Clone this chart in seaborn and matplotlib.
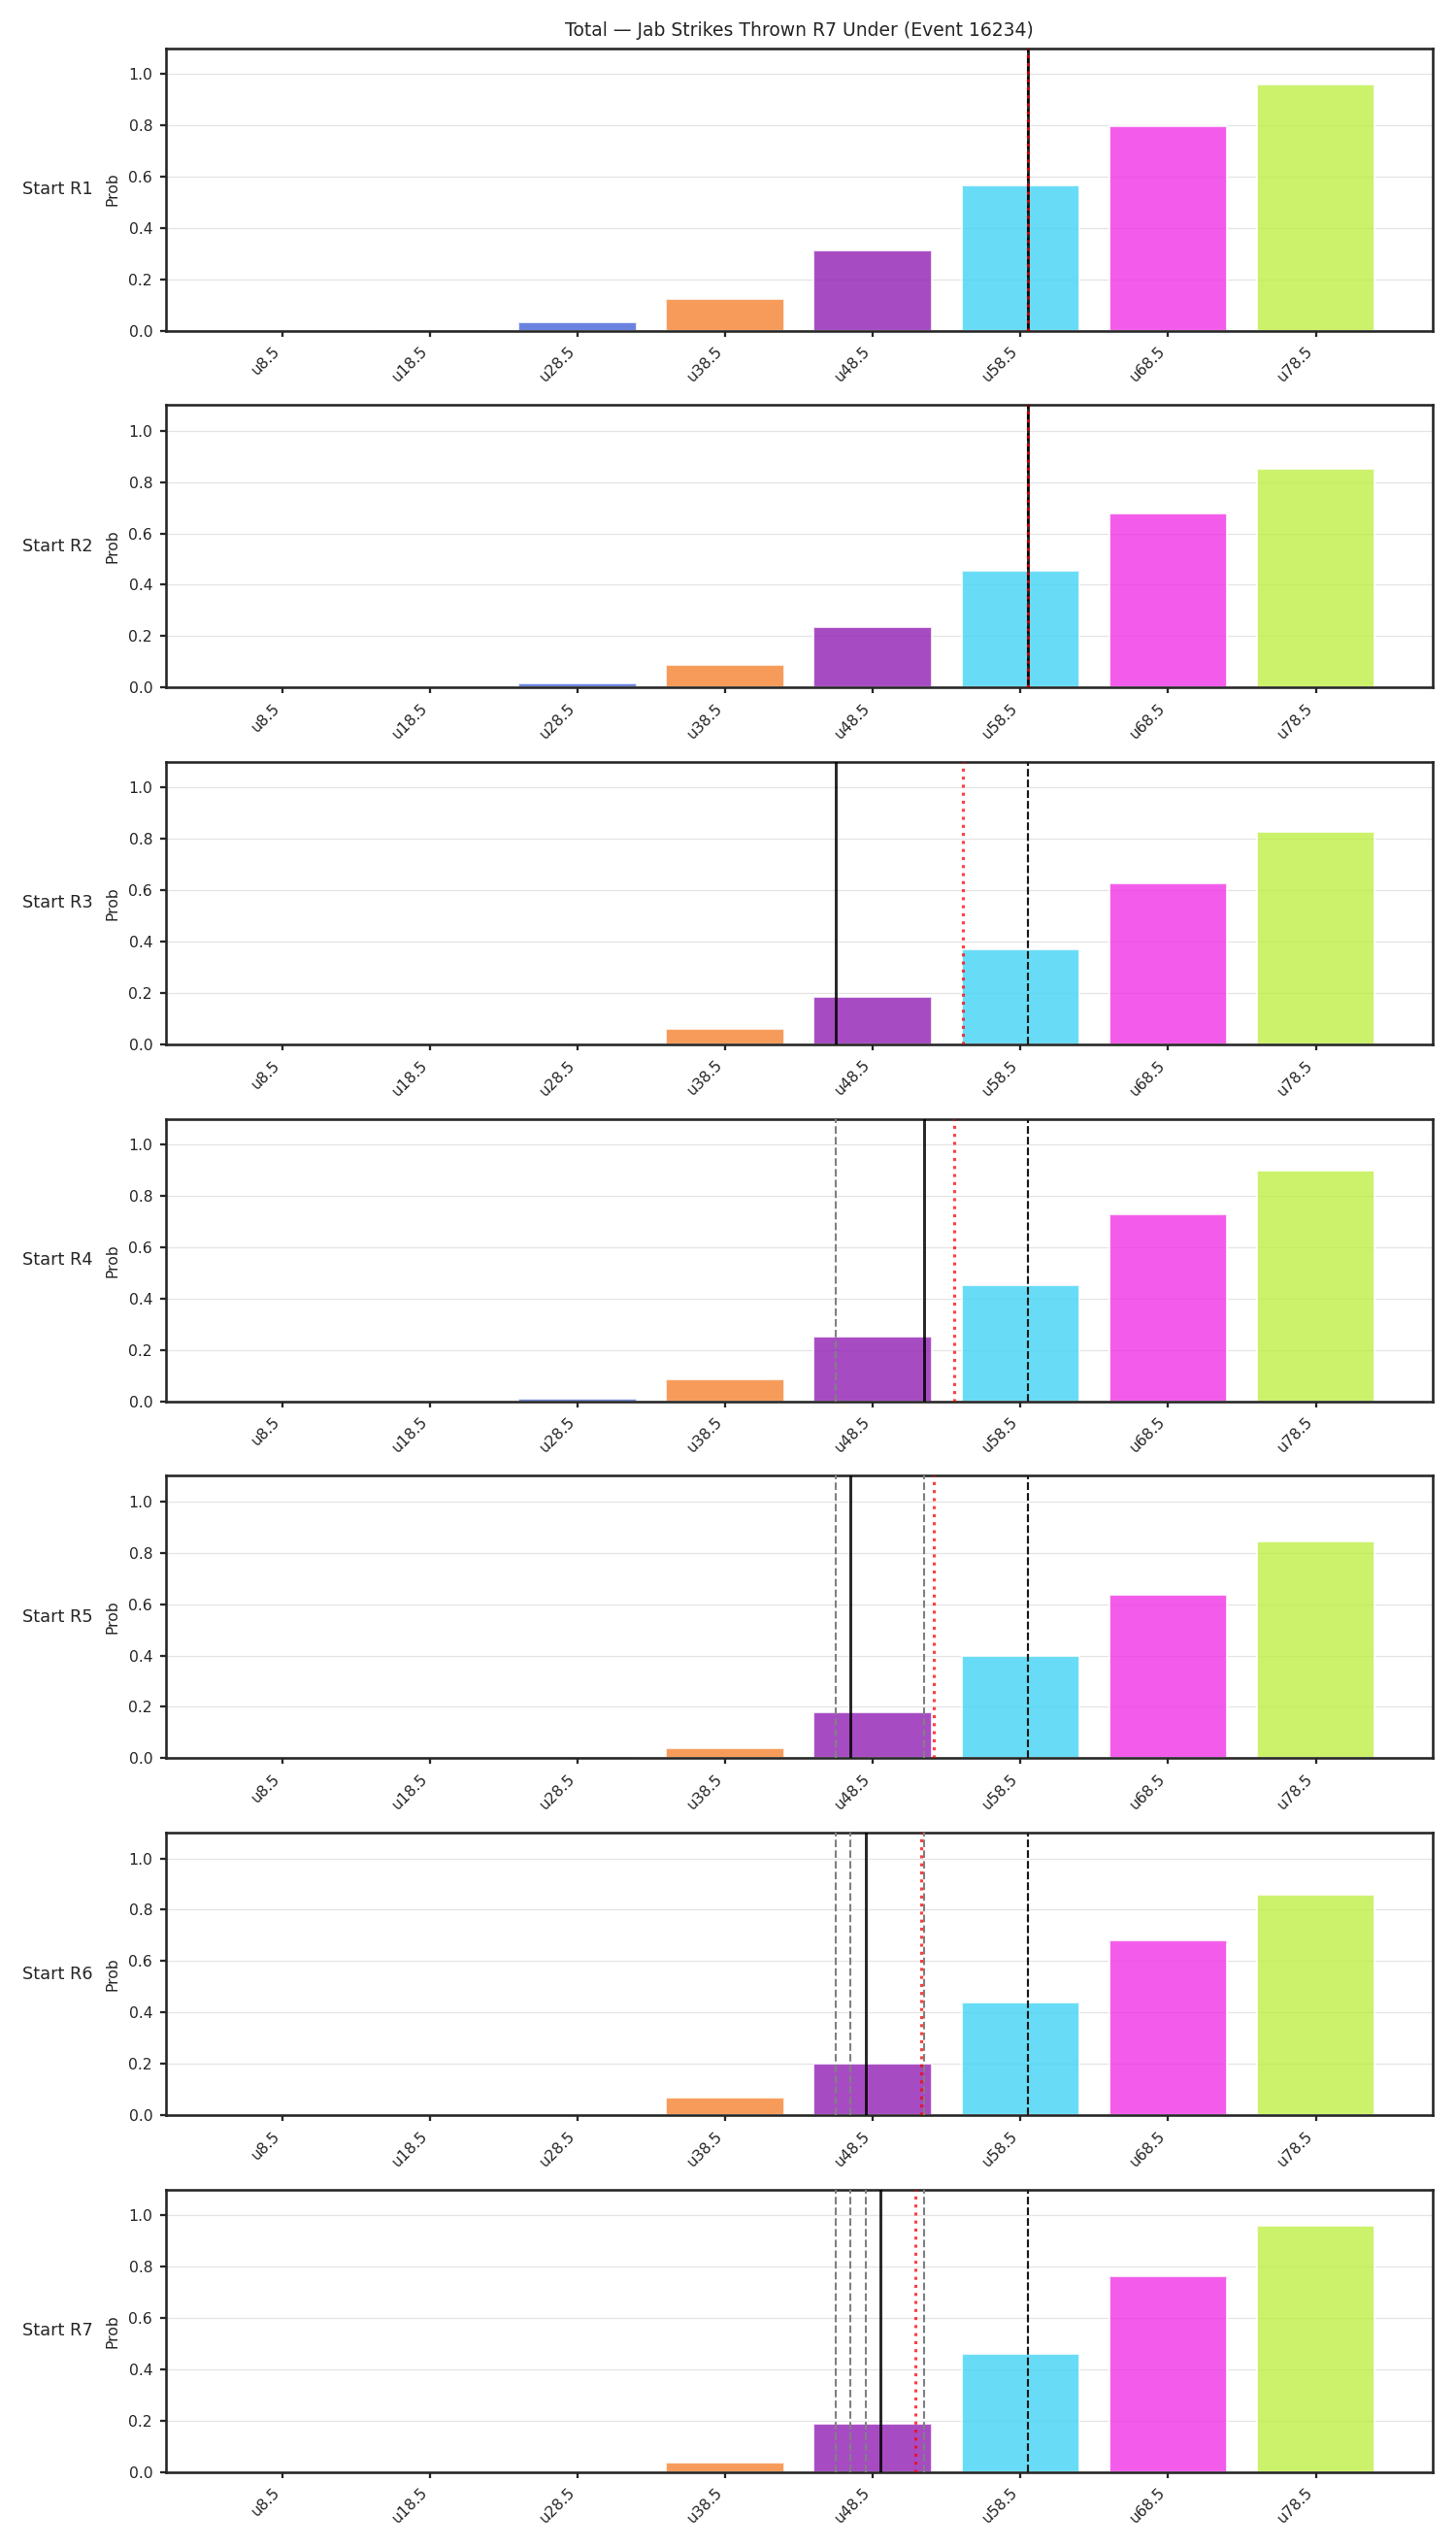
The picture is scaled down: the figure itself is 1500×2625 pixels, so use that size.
import numpy as np
import matplotlib
matplotlib.use("Agg")
import matplotlib.pyplot as plt
import seaborn as sns

# Under lines (x categories)
line_labels = ['u8.5', 'u18.5', 'u28.5', 'u38.5', 'u48.5', 'u58.5', 'u68.5', 'u78.5']
line_values = [8.5, 18.5, 28.5, 38.5, 48.5, 58.5, 68.5, 78.5]
bar_colors = ['#e6194b', '#3cb44b', '#4363d8', '#f58231', '#911eb4', '#42d4f4', '#f032e6', '#bfef45']

# Under probability per start round
probs_r1 = [0.0, 0.003, 0.032, 0.124, 0.312, 0.567, 0.797, 0.959]
probs_r2 = [0.0, 0.001, 0.017, 0.089, 0.235, 0.456, 0.677, 0.853]
probs_r3 = [0.0, 0.0, 0.002, 0.060, 0.186, 0.369, 0.626, 0.829]
probs_r4 = [0.0, 0.0, 0.010, 0.087, 0.251, 0.454, 0.729, 0.898]
probs_r5 = [0.0, 0.0, 0.007, 0.041, 0.179, 0.398, 0.638, 0.845]
probs_r6 = [0.0, 0.0, 0.003, 0.068, 0.201, 0.439, 0.679, 0.858]
probs_r7 = [0.0, 0.0, 0.001, 0.036, 0.189, 0.461, 0.764, 0.959]
all_probs = [probs_r1, probs_r2, probs_r3, probs_r4, probs_r5, probs_r6, probs_r7]
round_names = ['Start R1', 'Start R2', 'Start R3', 'Start R4', 'Start R5', 'Start R6', 'Start R7']

# Reference lines (in strikes)
projection = [59.0, 59.0, 46.0, 52.0, 47.0, 48.0, 49.0]   # solid, per round
market = [59.0, 59.0, 54.6, 54.0, 52.6, 51.8, 51.4]       # red dotted
pre_fight_mean = 59.0                                    # black dashed

sns.set_theme(style="ticks")
plt.rcParams['font.family'] = ['DejaVu Sans']

n = len(all_probs)
fig, axes = plt.subplots(n, 1, figsize=(10, 2.5 * n), dpi=150)
fig.subplots_adjust(left=0.1138, right=0.9838, top=0.9811, bottom=0.0298, hspace=0.2636)


def to_pos(v):
    # map strike value onto the categorical bar positions
    return np.interp(v, line_values, np.arange(len(line_values)))


for i, ax in enumerate(axes):
    sns.barplot(x=line_labels, y=all_probs[i], hue=line_labels, palette=bar_colors,
                legend=False, saturation=1, alpha=0.8, width=0.8, ax=ax, zorder=2)
    ax.set_xlim(-0.79, 7.79)
    ax.set_ylim(0, 1.1)
    ax.set_yticks([0.0, 0.2, 0.4, 0.6, 0.8, 1.0])
    ax.grid(axis='y', color='#e4e4e4', linewidth=0.6, zorder=0)
    ax.set_axisbelow(True)

    # earlier rounds' projections
    for prev in projection[:i]:
        ax.axvline(to_pos(prev), color='gray', linestyle='--', linewidth=1.0, zorder=3)
    ax.axvline(to_pos(pre_fight_mean), color='black', linestyle='--', linewidth=1.0, alpha=0.8, zorder=4)
    ax.axvline(to_pos(projection[i]), color='black', linewidth=1.4, alpha=0.85, zorder=5)
    ax.axvline(to_pos(market[i]), color='red', linestyle=':', linewidth=1.5, alpha=0.75, zorder=6)

    ax.set_ylabel('Prob', fontsize=7.5)
    ax.set_xlabel('')
    ax.text(-0.113, 0.5, round_names[i], transform=ax.transAxes, ha='left', va='center', fontsize=8.5)
    ax.tick_params(axis='y', labelsize=7.5, length=3, width=1.1)
    ax.tick_params(axis='x', labelsize=7.5, length=3, width=1.1)
    plt.setp(ax.get_xticklabels(), rotation=45, ha='right')
    for s in ax.spines.values():
        s.set_linewidth(1.25)
        s.set_color('#262626')

axes[0].set_title('Total \u2014 Jab Strikes Thrown R7 Under (Event 16234)', fontsize=9)

plt.savefig('out.png', dpi=150)
